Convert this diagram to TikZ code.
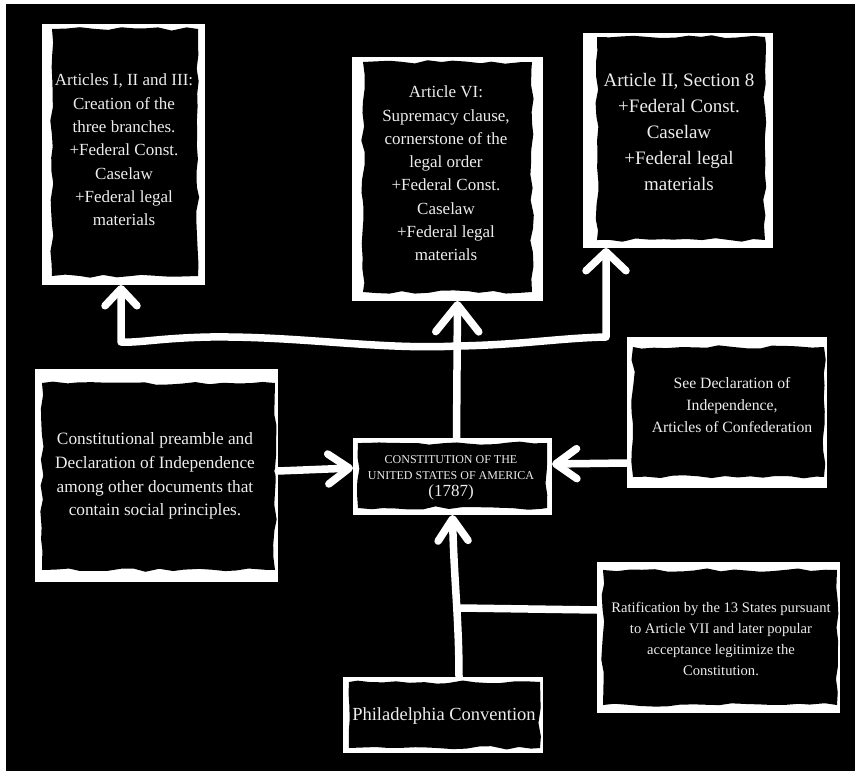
\documentclass[tikz,border=0pt]{standalone}
\usepackage{fontspec}
\setmainfont{Liberation Serif}
\usetikzlibrary{arrows.meta,calc,decorations.pathmorphing}
\newcommand\torninner[5]{%
  \begin{scope}
    \clip ($(#1.north west)+(1.5,1.5)$) rectangle ($(#1.south east)+(-1.5,-1.5)$);
    \fill[black, decorate, decoration={random steps, segment length=13pt, amplitude=1.8pt}]
      ($(#1.north west)+(#2,#3)$) rectangle ($(#1.south east)+(-#4,-#5)$);
  \end{scope}}
\begin{document}
\begin{tikzpicture}[x=1pt,y=-1pt,
  frame/.style={fill=white, draw=none, inner sep=0pt, outer sep=0pt},
  txt/.style={text=white!93!black, align=center, inner sep=0pt},
  conn/.style={draw=white, line width=7.5pt, line cap=round, line join=round},
  tip/.style n args={2}{-{Straight Barb[length=#1pt,width=#2pt,round]}}]
\pgfmathsetseed{4242}
\useasboundingbox (0,0) rectangle (855,771);
\fill[white] (0,0) rectangle (855,771);
\fill[black] (6,4) rectangle (855,771);

% boxes
\node[frame, minimum width=163pt, minimum height=261pt] (B1) at (123.5,154.5) {};
\torninner{B1}{10}{5}{7}{9}
\node[txt, font=\fontsize{17}{23.3}\selectfont] (T1) at (124,150)
  {Articles I, II and III:\\Creation of the\\three branches.\\+Federal Const.\\Caselaw\\+Federal legal\\materials};

\node[frame, minimum width=191pt, minimum height=244pt] (B2) at (447.5,179) {};
\torninner{B2}{11}{5}{11}{9}
\node[txt, font=\fontsize{17}{23.3}\selectfont] (T2) at (446,173.5)
  {Article VI:\\Supremacy clause,\\cornerstone of the\\legal order\\+Federal Const.\\Caselaw\\+Federal legal\\materials};

\node[frame, minimum width=190pt, minimum height=215pt] (B3) at (678,140.5) {};
\torninner{B3}{14}{4}{8}{8}
\node[txt, font=\fontsize{19}{25.8}\selectfont] (T3) at (679,132)
  {Article II, Section 8\\+Federal Const.\\Caselaw\\+Federal legal\\materials};

\node[frame, minimum width=243pt, minimum height=213pt] (B4) at (156.5,475.5) {};
\torninner{B4}{7}{14}{3}{12}
\node[txt, font=\fontsize{17.3}{23.7}\selectfont] (T4) at (155,476)
  {Constitutional preamble and\\Declaration of Independence\\among other documents that\\contain social principles.};

\node[frame, minimum width=200pt, minimum height=151pt] (B5) at (727,412.5) {};
\torninner{B5}{6}{10}{3}{11}
\node[txt, font=\fontsize{15.7}{22}\selectfont] (T5) at (732,405)
  {See Declaration of\\Independence,\\Articles of Confederation};

\node[frame, minimum width=199pt, minimum height=77pt] (C) at (452.5,476.5) {};
\torninner{C}{5}{5}{5}{7}
\node[txt, font=\fontsize{12}{16}\selectfont] (TC) at (451,478)
  {CONSTITUTION OF THE\\UNITED STATES OF AMERICA\\[1pt]\fontsize{17}{18}\selectfont (1787)};

\node[frame, minimum width=243pt, minimum height=151pt] (B7) at (718.5,637.5) {};
\torninner{B7}{6}{8}{3}{8}
\node[txt, font=\fontsize{14.6}{20.7}\selectfont] (T7) at (721,639)
  {Ratification by the 13 States pursuant\\to Article VII and later popular\\acceptance legitimize the\\Constitution.};

\node[frame, minimum width=200pt, minimum height=76pt] (P) at (443,715) {};
\torninner{P}{6}{5}{3}{5}
\node[txt, font=\fontsize{18.5}{22}\selectfont] (TP) at (444,716) {Philadelphia Convention};

% connectors
\coordinate (j1) at (457,346);
\coordinate (j2) at (460,608);
\draw[conn, tip={27}{43}] ([xshift=4pt]C.north) -- ([xshift=10pt]B2.south);
\draw[conn, tip={17}{32}] (j1) .. controls (380,350) and (300,336) .. (210,337)
  .. controls (160,338) and (140,343) .. (121,342) -- ([xshift=-2.5pt]B1.south);
\draw[conn, tip={19}{40}] (j1) .. controls (520,345) and (560,338) .. (606,337)
  -- ([xshift=-72pt]B3.south);
\draw[conn, tip={21}{30}] ([yshift=4.5pt]B4.east) -- ([yshift=8.5pt]C.west);
\draw[conn, tip={21}{30}] ([yshift=-50.5pt]B5.west) -- ([yshift=12.5pt]C.east);
\draw[conn, tip={22}{30}] ([xshift=16pt]P.north) .. controls (459,620) and (454,580) .. (C.south);
\draw[conn] ([yshift=27.5pt]B7.west) -- (j2);
\end{tikzpicture}
\end{document}
